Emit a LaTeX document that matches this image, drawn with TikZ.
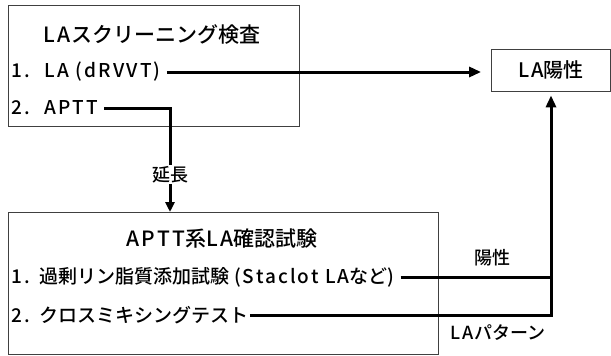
\documentclass[tikz,border=0pt]{standalone}
\usepackage{fontspec}
\setmainfont{Noto Sans CJK JP}[UprightFont={* Medium}]
\newfontfamily\latf{Noto Sans CJK JP}[UprightFont={* Medium}, LetterSpace=11]
\usetikzlibrary{arrows.meta}
\tikzset{
  box/.style={draw=black!75, line width=0.8pt},
  item/.style={anchor=west, inner sep=1pt, font=\fontsize{19}{21}\selectfont},
  ttl/.style={inner sep=1pt, font=\fontsize{21}{23}\selectfont},
  lbl/.style={inner sep=1pt, font=\fontsize{18}{20}\selectfont},
  conn/.style={line width=3pt, -{Triangle[length=12pt,width=10pt]}},
  plain/.style={line width=3pt},
}
\begin{document}
\begin{tikzpicture}[x=1pt,y=-1pt]
\useasboundingbox (0,0) rectangle (611,356);
% boxes
\draw[box] (8,5) rectangle (299,126);
\draw[box] (8,212) rectangle (438,354);
\node[box, minimum width=119pt, minimum height=42pt, inner sep=0pt, font=\fontsize{20}{22}\selectfont] (lapos) at (551,70) {{\latf LA}陽性};
% top box texts
\node[ttl] (t1) at (152,34) {{\latf LA}スクリーニング検査};
\node[item] (la) at (10,72) {{\latf 1.}\hspace{15pt}{\latf LA (dRVVT)}};
\node[item] (aptt) at (10,108) {{\latf 2.}\hspace{15pt}{\latf APTT}};
% bottom box texts
\node[ttl] (t2) at (222,239) {{\latf APTT}系{\latf LA}確認試験};
\node[item] (stac) at (10,277) {{\latf 1.}\hspace{10pt}過剰リン脂質添加試験 {\latf (Staclot LA}など)};
\node[item] (mix) at (10,315) {{\latf 2.}\hspace{10pt}クロスミキシングテスト};
\coordinate (c2) at (170,212);
% connectors
\draw[conn, shorten <=5pt, shorten >=10pt] (la.east) -- (la.east -| lapos.west);
\draw[plain, shorten <=5pt] (stac.east) -- (stac.east -| lapos.south);
\draw[conn, shorten >=4pt] (mix.east) -| (lapos.south);
\draw[line width=3pt, -{Triangle[length=10pt,width=9pt]}, shorten <=5pt] (aptt.east) -| node[pos=0.82, fill=white, inner xsep=2pt, inner ysep=9pt, lbl] (ext) {延長} (c2);
% labels
\node[lbl] (pos) at (492,258) {陽性};
\node[lbl] (pat) at (498,333) {{\latf LA}パターン};
\end{tikzpicture}
\end{document}
